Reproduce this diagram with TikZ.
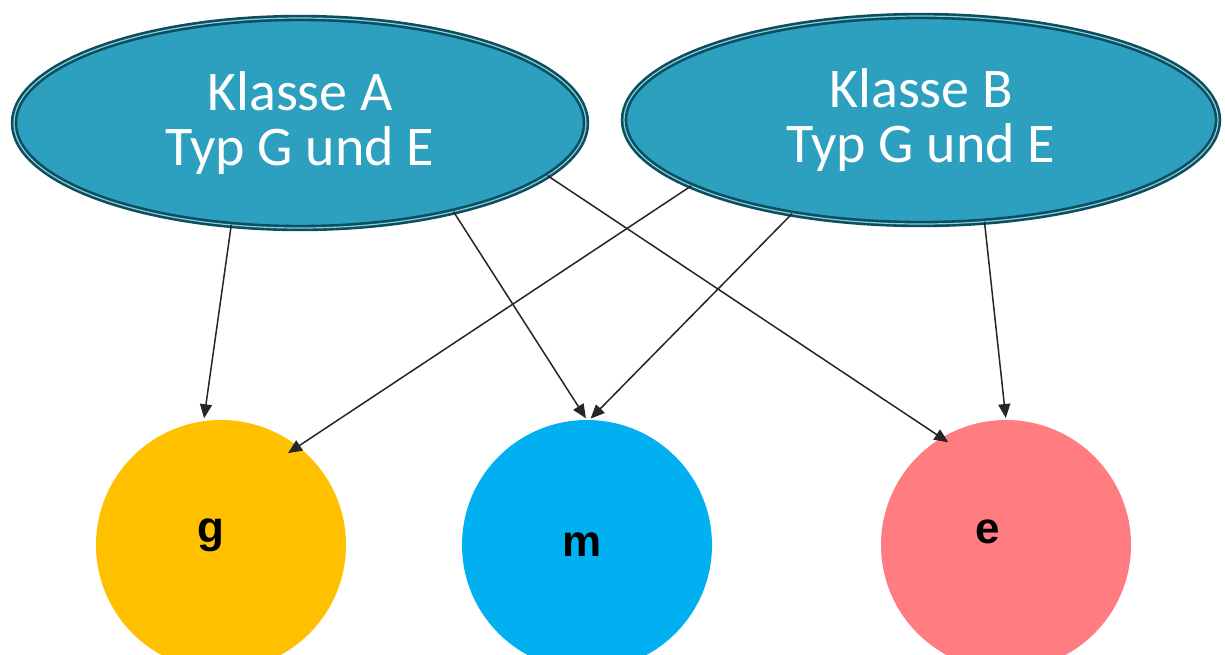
\documentclass[tikz,border=0pt]{standalone}
\usepackage{fontspec}
\setmainfont{Carlito}
\newfontfamily\labfont{Liberation Sans}
\usetikzlibrary{shapes.geometric,arrows.meta}
\definecolor{ellfill}{HTML}{2CA0BE}
\definecolor{elldark}{HTML}{0A4F60}
\definecolor{gcol}{HTML}{FFC000}
\definecolor{mcol}{HTML}{00B0F0}
\definecolor{ecol}{HTML}{FF7C80}
\begin{document}
\begin{tikzpicture}[x=0.5pt,y=-0.5pt,
  cls/.style={ellipse, fill=ellfill, draw=elldark, line width=1.3pt,
    double=ellfill!55!white, double distance=0.6pt, text=white, align=center,
    font=\fontsize{28}{27.5}\selectfont, inner sep=0pt, outer sep=0pt},
  bub/.style={circle, minimum size=125pt, inner sep=0pt, outer sep=0pt},
  lab/.style={font=\labfont\bfseries\fontsize{22}{22}\selectfont, inner sep=0pt, anchor=base},
  arr/.style={-{Triangle[length=7pt,width=6pt]}, line width=0.75pt, black!85}]
\useasboundingbox (0,0) rectangle (1225,654);
\clip (0,0) rectangle (1225,654);
\fill[white] (0,0) rectangle (1225,654);
% bottom circles
\node[bub, fill=gcol] (g) at (221,545) {};
\node[bub, fill=mcol] (m) at (587,545) {};
\node[bub, fill=ecol] (e) at (1006,545) {};
\node[lab] (gl) at (211,542) {g};
\node[lab] (ml) at (582,556) {m};
\node[lab] (el) at (988,543) {e};
% class ellipses
\node[cls, minimum width=286pt, minimum height=105pt] (A) at (300,123) {Klasse A\\Typ G und E};
\node[cls, minimum width=297pt, minimum height=104pt] (B) at (921,120) {Klasse B\\Typ G und E};
% connectors
\draw[arr, shorten >=1.5pt] (A.236.5) -- (g.98);
\draw[arr, shorten >=1pt] (A.330) -- (m.90);
\draw[arr, shorten >=-4pt] (A.348) -- (e.121.4);
\draw[arr, shorten >=-6pt] (B.196.4) -- (g.52.5);
\draw[arr, shorten >=1pt] (B.216.9) -- (m.89);
\draw[arr, shorten >=1pt] (B.302) -- (e.90);
\end{tikzpicture}
\end{document}
